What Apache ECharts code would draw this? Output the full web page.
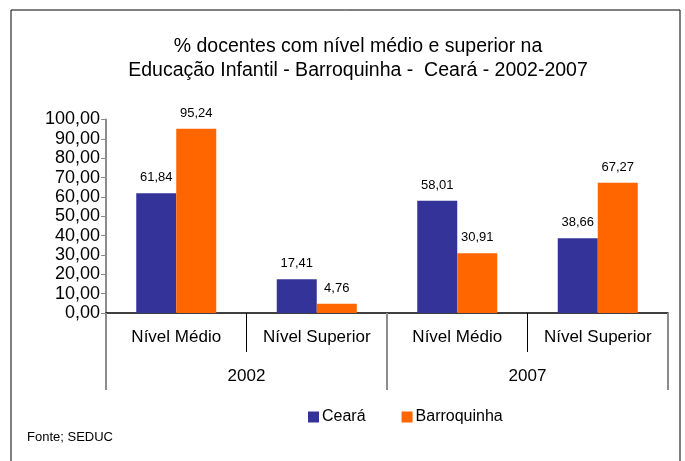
<!DOCTYPE html>
<html>
<head>
<meta charset="utf-8">
<script src="https://cdn.jsdelivr.net/npm/echarts@6/dist/echarts.min.js"></script>
<style>
  html, body { margin: 0; padding: 0; background: #fff; }
  #chart { width: 685px; height: 461px; }
</style>
</head>
<body>
<div id="chart"></div>
<script>
const categories = ['Nível Médio', 'Nível Superior', 'Nível Médio', 'Nível Superior']
const years = ['2002', '2007']
const ceara = [61.84, 17.41, 58.01, 38.66]
const barroquinha = [95.24, 4.76, 30.91, 67.27]

const FONT = '"Liberation Sans", Arial, sans-serif'
const fmt = v => v.toFixed(2).replace('.', ',')

const chart = echarts.init(document.getElementById('chart'))

chart.setOption({
  backgroundColor: '#fff',
  animation: false,
  textStyle: { fontFamily: FONT, color: '#000' },
  title: {
    text: '% docentes com nível médio e superior na\nEducação Infantil - Barroquinha -  Ceará - 2002-2007',
    left: 353, top: 30, textAlign: 'center',
    textStyle: { fontFamily: FONT, fontSize: 19.5, fontWeight: 'normal', color: '#000', lineHeight: 24 },
  },
  legend: {
    bottom: 31, left: 303,
    itemWidth: 11, itemHeight: 11, itemGap: 36,
    icon: 'rect',
    textStyle: { fontFamily: FONT, fontSize: 16, color: '#000', padding: [0, 0, 0, -2] },
    data: ['Ceará', 'Barroquinha'],
  },
  graphic: [
    {
      type: 'rect', shape: { x: 11, y: 10, width: 669, height: 470 },
      style: { fill: 'none', stroke: '#000', lineWidth: 1 }, silent: true,
    },
    {
      type: 'text', left: 27, top: 431,
      style: { text: 'Fonte; SEDUC', font: '13px ' + FONT, fill: '#000' },
    },
  ],
  grid: { left: 106, right: 17, top: 119.5, bottom: 148 },
  xAxis: [
    {
      type: 'category', data: categories, position: 'bottom',
      axisLine: { show: true, lineStyle: { color: '#000', width: 1.5 } },
      axisTick: { show: true, interval: 0, inside: false, alignWithLabel: false, length: 39,
        lineStyle: { color: '#000', width: 1 } },
      axisLabel: { interval: 0, margin: 16, fontSize: 17, color: '#000', fontFamily: FONT },
    },
    {
      type: 'category', data: years, position: 'bottom',
      axisLine: { show: false },
      axisTick: { show: true, interval: 0, inside: false, alignWithLabel: false, length: 77,
        lineStyle: { color: '#8c8c8c', width: 2 } },
      axisLabel: { interval: 0, margin: 55, fontSize: 17, color: '#000', fontFamily: FONT },
    },
  ],
  yAxis: {
    type: 'value', min: 0, max: 100, interval: 10,
    axisLine: { show: true, lineStyle: { color: '#8c8c8c', width: 2 } },
    axisTick: { show: true, inside: false, length: 5, lineStyle: { color: '#8c8c8c' } },
    axisLabel: { formatter: fmt, fontSize: 18, margin: 6, color: '#000', fontFamily: FONT },
    splitLine: { show: false },
  },
  series: [
    {
      name: 'Ceará', type: 'bar', data: ceara, barWidth: 40, barGap: '0%',
      itemStyle: { color: '#333399' },
      label: { show: true, position: 'top', distance: 9, fontSize: 13, color: '#000', fontFamily: FONT,
        formatter: p => fmt(p.value) },
    },
    {
      name: 'Barroquinha', type: 'bar', data: barroquinha, barWidth: 40,
      itemStyle: { color: '#ff6600' },
      label: { show: true, position: 'top', distance: 9, fontSize: 13, color: '#000', fontFamily: FONT,
        formatter: p => fmt(p.value) },
    },
  ],
})
</script>
</body>
</html>
